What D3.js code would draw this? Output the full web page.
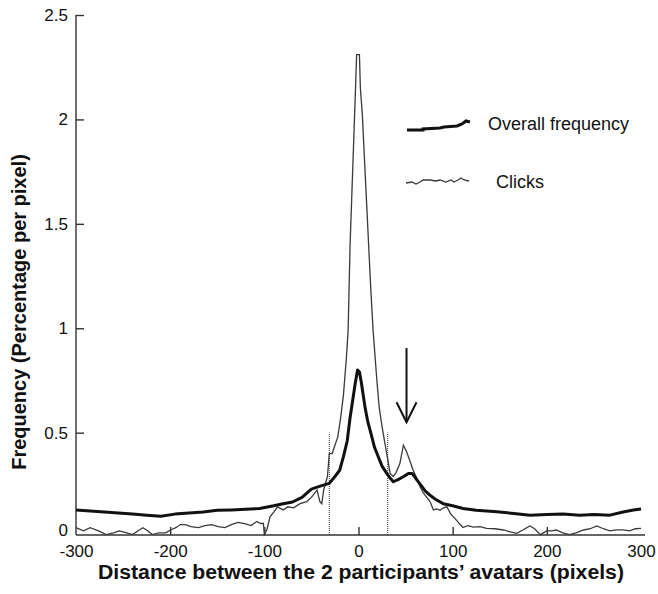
<!DOCTYPE html>
<html lang="en">
<head>
<meta charset="UTF-8">
<title>Frequency vs distance</title>
<style>
    body { margin: 0; background: #fff; }
    text { font-family: "Liberation Sans", Arial, sans-serif; fill: #111; }
    .axis path, .axis line { stroke: #333; stroke-width: 1.4; }
    .axis text { font-size: 17px; }
    .title { font-size: 20px; font-weight: bold; }
    .legend text { font-size: 18px; }
</style>
</head>
<body>
<div id="chart"></div>
<script src="https://d3js.org/d3.v7.min.js"></script>
<script>
    // overall frequency (thick line)
    const overallX = [-300,-285,-270,-255,-240,-225,-210,-195,-180,-165,-150,-135,-120,-105,-90,-80,-70,-60,-50,-40,-31,-25,-20,-16,-12,-9,-6,-3.5,-1,1,3,5,7,10,13,17,21,25,30,34,37,42,48,53,57,61,66,71,76,82,90,100,111,125,147,165,182,200,217,235,250,267,281,292,300];
    const overallY = [0.13,0.125,0.12,0.115,0.11,0.105,0.10,0.11,0.115,0.12,0.128,0.13,0.133,0.137,0.15,0.16,0.168,0.19,0.23,0.245,0.257,0.29,0.32,0.385,0.46,0.57,0.66,0.736,0.80,0.79,0.74,0.68,0.62,0.55,0.50,0.43,0.385,0.34,0.305,0.28,0.265,0.275,0.29,0.305,0.305,0.28,0.25,0.22,0.20,0.18,0.16,0.15,0.137,0.128,0.121,0.113,0.105,0.108,0.11,0.105,0.108,0.105,0.12,0.13,0.135];

    // clicks (thin line)
    const clicksX = [-300,-292,-285,-276,-268,-260,-254,-246,-240,-234,-229,-224,-219,-212,-205,-199,-194,-189,-184,-178,-170,-163,-156,-149,-142,-135,-128,-121,-114,-108,-104,-101,-100,-97,-94,-90,-86,-80,-75,-69,-62,-55,-50,-44,-41,-39,-37,-33,-31,-28,-25,-22,-19,-16,-13,-11,-9,-7,-5,-3,-2,1,2,4,7,10,13,15.5,19.5,22,25,28,30,33.6,37,40,44,47.7,51,55,58,62,65.5,69,72.5,76,79.5,83,86.7,90,93.8,98,104,108,111,116,122,129,136,145,154,161,168,175,182,187,193,200,205,210,217,224,231,239,246,253,260,267,274,281,288,294,300];
    const clicksY = [0.045,0.03,0.045,0.03,0.012,0.02,0.03,0.02,0.012,0.03,0.045,0.03,0.012,0.02,0.02,0.035,0.045,0.06,0.06,0.05,0.045,0.055,0.06,0.05,0.045,0.06,0.07,0.065,0.055,0.075,0.065,0.065,0.012,0.04,0.097,0.12,0.145,0.13,0.145,0.14,0.16,0.17,0.19,0.225,0.17,0.16,0.225,0.29,0.40,0.40,0.44,0.48,0.57,0.68,0.85,0.99,1.39,1.65,1.91,2.17,2.31,2.31,2.15,2.03,1.75,1.47,1.19,0.99,0.75,0.62,0.53,0.45,0.40,0.305,0.29,0.31,0.353,0.44,0.41,0.36,0.32,0.28,0.24,0.21,0.19,0.17,0.13,0.135,0.129,0.14,0.145,0.11,0.081,0.06,0.046,0.055,0.048,0.05,0.042,0.04,0.034,0.025,0.018,0.035,0.053,0.04,0.012,0.03,0.03,0.034,0.02,0.012,0.02,0.034,0.04,0.053,0.04,0.03,0.035,0.035,0.03,0.04,0.042];

    const xTicks = [-300,-200,-100,0,100,200,300];
    const yTicks = [0,0.5,1,1.5,2,2.5];
    const guideX = [-31,31];      // dotted markers
    const arrowX = 51;            // arrow over the second bump
    const arrowFrom = 0.905, arrowTo = 0.55;

    const seriesNames = ["Overall frequency", "Clicks"];

    const width = 658, height = 594;

    const svg = d3.select("#chart").append("svg")
        .attr("width", width)
        .attr("height", height);

    const x = d3.scaleLinear().domain([-300, 300]).range([76, 641]);
    const y = d3.scaleLinear().domain([0.01, 2.5]).range([535, 15]);

    // axes, ticks pointing inward
    const xAxis = svg.append("g")
        .attr("class", "axis")
        .attr("transform", "translate(0,535)")
        .call(d3.axisBottom(x).tickValues(xTicks).tickSize(-8).tickSizeOuter(0).tickPadding(10).tickFormat(d => String(d)));
    xAxis.select(".domain").attr("d", "M76,0H645");
    xAxis.selectAll(".tick").filter(d => d === -300 || d === 300).select("line").remove();

    const yAxis = svg.append("g")
        .attr("class", "axis")
        .attr("transform", "translate(76,0)")
        .call(d3.axisLeft(y).tickValues(yTicks).tickSize(-8).tickSizeOuter(0).tickPadding(8).tickFormat(d => d));
    yAxis.selectAll(".tick").filter(d => d === 0).select("line").remove();
    yAxis.selectAll(".tick").filter(d => d === 0).select("text").attr("dy", "-0.1em");
    yAxis.select(".domain").attr("d", "M0,15V535");

    // dotted guides
    svg.selectAll(".guide")
        .data(guideX)
        .enter()
        .append("line")
        .attr("class", "guide")
        .attr("x1", d => x(d)).attr("x2", d => x(d))
        .attr("y1", y(0.01)).attr("y2", y(0.5))
        .attr("stroke", "#333")
        .attr("stroke-width", 1)
        .attr("stroke-dasharray", "1,1");

    const line = d3.line().x(d => x(d[0])).y(d => y(d[1]));

    svg.append("path")
        .datum(d3.zip(clicksX, clicksY))
        .attr("fill", "none")
        .attr("stroke", "#3a3a3a")
        .attr("stroke-width", 1.3)
        .attr("d", line);

    svg.append("path")
        .datum(d3.zip(overallX, overallY))
        .attr("fill", "none")
        .attr("stroke", "#111")
        .attr("stroke-width", 3)
        .attr("stroke-linejoin", "round")
        .attr("d", line);

    // arrow
    const ax = x(arrowX), ay0 = y(arrowFrom), ay1 = y(arrowTo);
    svg.append("line")
        .attr("x1", ax).attr("x2", ax).attr("y1", ay0).attr("y2", ay1)
        .attr("stroke", "#111").attr("stroke-width", 2);
    svg.append("path")
        .attr("d", `M${ax - 10},${ay1 - 20}L${ax},${ay1}L${ax + 10},${ay1 - 20}`)
        .attr("fill", "none").attr("stroke", "#111").attr("stroke-width", 2);

    // legend
    const legend = svg.append("g").attr("class", "legend");
    const thickSample = [[0,4],[16,4],[16,3],[33,2],[37,1],[50,0],[55,-2],[59,-5],[63,-4]];
    const thinSample = [[0,2],[6,1],[10,3],[14,1],[17,-1],[24,-1],[30,0],[34,-1],[40,1],[45,-1],[48,1],[52,-1],[55,-3],[58,-1],[63,0]];
    const sampleLine = d3.line();
    legend.append("path")
        .attr("d", sampleLine(thickSample.map(p => [407 + p[0], 126 + p[1]])))
        .attr("fill", "none").attr("stroke", "#111").attr("stroke-width", 3);
    legend.append("path")
        .attr("d", sampleLine(thinSample.map(p => [406 + p[0], 181 + p[1]])))
        .attr("fill", "none").attr("stroke", "#3a3a3a").attr("stroke-width", 1.3);
    legend.append("text").attr("x", 488).attr("y", 130).text(seriesNames[0]);
    legend.append("text").attr("x", 496).attr("y", 188).text(seriesNames[1]);

    // axis titles
    svg.append("text")
        .attr("class", "title")
        .attr("x", 361).attr("y", 579)
        .attr("text-anchor", "middle")
        .attr("textLength", 526)
        .attr("lengthAdjust", "spacingAndGlyphs")
        .text("Distance between the 2 participants\u2019 avatars (pixels)");
    svg.append("text")
        .attr("class", "title")
        .attr("transform", "translate(26,312) rotate(-90)")
        .attr("text-anchor", "middle")
        .text("Frequency (Percentage per pixel)");
</script>
</body>
</html>
